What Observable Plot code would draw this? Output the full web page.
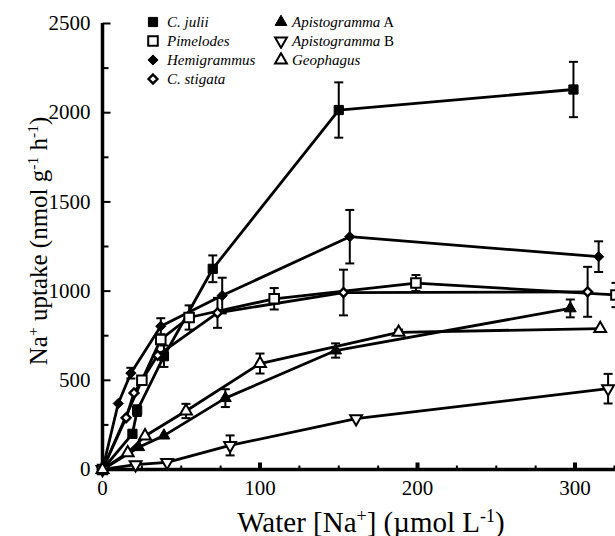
<!DOCTYPE html>
<html><head><meta charset="utf-8">
<script src="https://cdn.jsdelivr.net/npm/d3@7"></script>
<script src="https://cdn.jsdelivr.net/npm/@observablehq/plot@0.6"></script>
<style>
body{margin:0;background:#fff;overflow:hidden}
#wrap{position:relative;width:615px;height:536px;font-family:"Liberation Serif",Tinos,"Times New Roman",Times,"DejaVu Serif",serif;color:#000}
.ov{position:absolute;white-space:nowrap;line-height:1}
.sup{font-size:0.62em;position:relative;top:-0.55em}
.leg{position:absolute;white-space:nowrap;font-size:15px;line-height:1;transform:translateY(-50%)}
.legm{position:absolute;transform:translate(-50%,-50%)}
</style></head><body><div id="wrap"></div>
<script>
// ---- data ----
const seriesNames = ["C. julii","Pimelodes","Hemigrammus","C. stigata","Apistogramma A","Apistogramma B","Geophagus"];

const cJuliiX   = [0, 19, 22, 39, 70, 150, 299];
const cJuliiY   = [0, 200, 330, 635, 1125, 2015, 2130];
const cJuliiErr = [0, 0, 30, 60, 75, 155, 155];

const pimelodesX   = [0, 25, 37, 55, 109, 199, 326];
const pimelodesY   = [0, 500, 729, 852, 957, 1045, 978];
const pimelodesErr = [0, 0, 0, 68, 60, 45, 68];

const hemigrammusX   = [0, 10, 18, 37, 76, 157, 315];
const hemigrammusY   = [0, 370, 540, 803, 975, 1305, 1193];
const hemigrammusErr = [0, 0, 30, 45, 100, 150, 86];

const cStigataX   = [0, 15, 20, 35, 73, 153, 308];
const cStigataY   = [0, 290, 429, 640, 878, 992, 996];
const cStigataErr = [0, 0, 0, 0, 84, 128, 140];

const apistoAX   = [0, 23, 39, 78, 148, 297];
const apistoAY   = [0, 125, 190, 400, 667, 903];
const apistoAErr = [0, 0, 0, 50, 40, 50];

const apistoBX   = [0, 21, 41, 81, 161, 321];
const apistoBY   = [0, 27, 40, 135, 285, 453];
const apistoBErr = [0, 0, 0, 56, 0, 83];

const geophagusX   = [0, 16, 27, 53, 100, 188, 316];
const geophagusY   = [0, 94, 188, 328, 594, 769, 790];
const geophagusErr = [0, 0, 0, 40, 56, 15, 0];

const xTickLabels = [0, 100, 200, 300];
const xMinorTicks = [25, 50, 75, 125, 150, 175, 225, 250, 275, 325];
const yTickLabels = [0, 500, 1000, 1500, 2000, 2500];
const yMinorTicks = [250, 750, 1250, 1750, 2250];

const serifStack = '"Liberation Serif",Tinos,"Times New Roman",Times,"DejaVu Serif",serif';

// ---- styling per series ----
const series = [
  {name: seriesNames[0], xs: cJuliiX, ys: cJuliiY, es: cJuliiErr, symbol: "square", fill: "black", r: 5.2, rotate: 0, sw: 1},
  {name: seriesNames[1], xs: pimelodesX, ys: pimelodesY, es: pimelodesErr, symbol: "square", fill: "white", r: 5.4, rotate: 0, sw: 2},
  {name: seriesNames[2], xs: hemigrammusX, ys: hemigrammusY, es: hemigrammusErr, symbol: "diamond2", fill: "black", r: 4.6, rotate: 0, sw: 1},
  {name: seriesNames[3], xs: cStigataX, ys: cStigataY, es: cStigataErr, symbol: "diamond2", fill: "white", r: 4.0, rotate: 0, sw: 2.4},
  {name: seriesNames[4], xs: apistoAX, ys: apistoAY, es: apistoAErr, symbol: "triangle", fill: "black", r: 4.4, rotate: 0, sw: 1},
  {name: seriesNames[5], xs: apistoBX, ys: apistoBY, es: apistoBErr, symbol: "triangle", fill: "white", r: 4.4, rotate: 180, sw: 2},
  {name: seriesNames[6], xs: geophagusX, ys: geophagusY, es: geophagusErr, symbol: "triangle", fill: "white", r: 4.4, rotate: 0, sw: 2}
];

const points = series.flatMap(s => s.xs.map((x, i) => ({name: s.name, x, y: s.ys[i], e: s.es[i]})));
const errPts = points.filter(d => d.e > 0);
const caps = errPts.flatMap(d => [{x: d.x, y: d.y - d.e}, {x: d.x, y: d.y + d.e}]);

const capSymbol = {draw(ctx, size) { const w = Math.sqrt(size / Math.PI); ctx.moveTo(-w, 0); ctx.lineTo(w, 0); }};
const tickRight = {draw(ctx, size) { const l = Math.sqrt(size / Math.PI); ctx.moveTo(0, 0); ctx.lineTo(l, 0); }};
const tickUp = {draw(ctx, size) { const l = Math.sqrt(size / Math.PI); ctx.moveTo(0, 0); ctx.lineTo(0, -l); }};

const plot = Plot.plot({
  width: 615, height: 536,
  marginLeft: 102, marginRight: 0, marginTop: 23, marginBottom: 67,
  x: {domain: [0, 325.7]},
  y: {domain: [0, 2500]},
  style: {fontFamily: serifStack, fontSize: "21px", background: "white", color: "black", overflow: "hidden"},
  marks: [
    Plot.axisX({ticks: xTickLabels, tickSize: 0, tickPadding: 11, label: null, tickFormat: d => String(d), fontFamily: serifStack}),
    Plot.axisY({ticks: yTickLabels, tickSize: 0, tickPadding: 12, label: null, tickFormat: d => String(d), fontFamily: serifStack}),
    Plot.dot(yTickLabels, {y: d => d, frameAnchor: "left", symbol: tickRight, r: 8, stroke: "black", strokeWidth: 2, fill: "none"}),
    Plot.dot(yMinorTicks, {y: d => d, frameAnchor: "left", symbol: tickRight, r: 6, stroke: "black", strokeWidth: 2, fill: "none"}),
    Plot.dot(xTickLabels, {x: d => d, frameAnchor: "bottom", symbol: tickUp, r: 7, stroke: "black", strokeWidth: 4, fill: "none"}),
    Plot.dot(xMinorTicks, {x: d => d, frameAnchor: "bottom", symbol: tickUp, r: 4, stroke: "black", strokeWidth: 2, fill: "none"}),
    Plot.ruleX([0], {stroke: "black", strokeWidth: 3.5}),
    Plot.ruleY([0], {stroke: "black", strokeWidth: 3.5}),
    Plot.line(points, {x: "x", y: "y", z: "name", stroke: "black", strokeWidth: 2.8, curve: "linear"}),
    Plot.ruleX(errPts, {x: "x", y1: d => d.y - d.e, y2: d => d.y + d.e, stroke: "black", strokeWidth: 2}),
    Plot.dot(caps, {x: "x", y: "y", symbol: capSymbol, r: 4.5, stroke: "black", strokeWidth: 2, fill: "none"}),
    ...series.map(s => Plot.dot(points.filter(d => d.name === s.name), {
      x: "x", y: "y", symbol: s.symbol, r: s.r, rotate: s.rotate,
      fill: s.fill, stroke: "black", strokeWidth: s.sw
    }))
  ]
});

const wrap = document.getElementById("wrap");
wrap.appendChild(plot);
plot.querySelectorAll("text").forEach(t => t.setAttribute("font-family", serifStack));

// axis titles
const yl = document.createElement("div");
yl.className = "ov";
yl.style.cssText = "left:38px;top:241px;font-size:25px;transform:translate(-50%,-50%) rotate(-90deg);";
yl.innerHTML = 'Na<span class="sup">+</span> uptake (nmol g<span class="sup">-1</span> h<span class="sup">-1</span>)';
wrap.appendChild(yl);

const xl = document.createElement("div");
xl.className = "ov";
xl.style.cssText = "left:371px;top:522px;font-size:29px;transform:translate(-50%,-50%);";
xl.innerHTML = 'Water [Na<span class="sup">+</span>] (\u00b5mol L<span class="sup">-1</span>)';
wrap.appendChild(xl);

// legend
const legPos = [[0,0],[0,1],[0,2],[0,3],[1,0],[1,1],[1,2]];
const colMarkX = [153, 281], colTextX = [167, 292];
const symMap = {square: d3.symbolSquare, diamond2: d3.symbolDiamond2, triangle: d3.symbolTriangle};
series.forEach((s, i) => {
  const [c, row] = legPos[i];
  const cy = 22 + row * 19;
  const m = document.createElement("div");
  m.className = "legm";
  m.style.left = colMarkX[c] + "px";
  m.style.top = cy + "px";
  const p = d3.symbol(symMap[s.symbol], Math.PI * s.r * s.r)();
  m.innerHTML = `<svg width="16" height="16" viewBox="-8 -8 16 16" style="display:block"><path d="${p}" transform="rotate(${s.rotate})" fill="${s.fill}" stroke="black" stroke-width="${s.sw}"/></svg>`;
  wrap.appendChild(m);
  const t = document.createElement("div");
  t.className = "leg";
  t.style.left = colTextX[c] + "px";
  t.style.top = cy + "px";
  const parts = s.name.match(/^(Apistogramma) ([AB])$/);
  t.innerHTML = parts ? `<i>${parts[1]}</i> ${parts[2]}` : `<i>${s.name}</i>`;
  wrap.appendChild(t);
});
</script></body></html>
